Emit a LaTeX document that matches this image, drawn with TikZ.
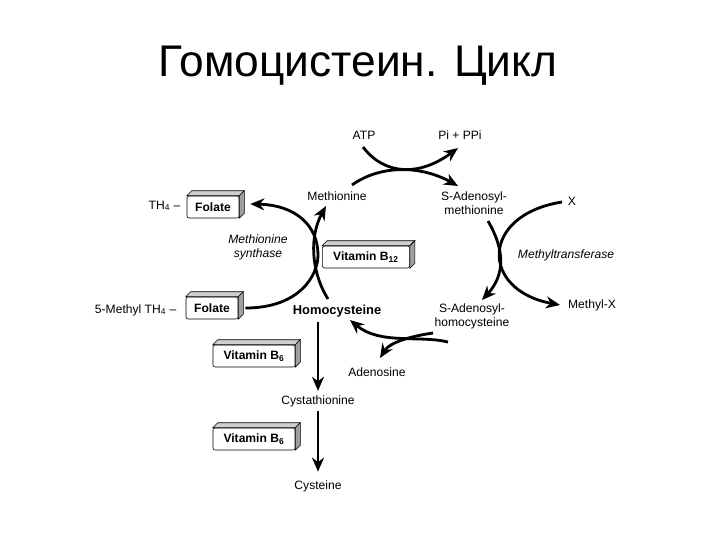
\documentclass[tikz,border=0pt]{standalone}
\usepackage{fontspec}
\setmainfont{Liberation Sans}
\usetikzlibrary{arrows.meta,calc}
\definecolor{grisCara}{HTML}{CFCFCF}
\definecolor{grisLado}{HTML}{A0A0A0}
\tikzset{
  etiq/.style={font=\fontsize{8.6}{10}\selectfont,align=center,inner sep=1pt},
  enzima/.style={etiq,font=\fontsize{8.6}{10}\selectfont\itshape},
  caja/.style={draw,thin,fill=white,rounded corners=1.5pt,inner sep=0pt,
    minimum height=0.55cm,font=\fontsize{8.6}{10}\selectfont\bfseries},
  flecha/.style={line width=2pt,-{Stealth[length=10pt,width=8.5pt]}},
}
\newcommand{\caras}[1]{%
  \filldraw[fill=grisCara,thin] (#1.north west) -- ++(5,-5) -- ($(#1.north east)+(5,-5)$) -- (#1.north east) -- cycle;
  \filldraw[fill=grisLado,thin] (#1.north east) -- ++(5,-5) -- ($(#1.south east)+(5,-5)$) -- (#1.south east) -- cycle;}

\begin{document}
\begin{tikzpicture}[x=0.025cm,y=-0.025cm]
  \useasboundingbox (0,0) rectangle (720,540);
  \node[font=\fontsize{31.5}{36}\selectfont] (titulo) at (358,66) {Гомоцистеин. Цикл};
  % metabolites
  \node[etiq] (atp) at (364,135) {ATP};
  \node[etiq] (ppi) at (460,135) {Pi + PPi};
  \node[etiq] (met) at (337,196) {Methionine};
  \node[etiq] (sam) at (474,203) {S-Adenosyl-\\methionine};
  \node[etiq] (x) at (572,201) {X};
  \node[etiq,font=\fontsize{9.2}{11}\selectfont\bfseries] (hcy) at (337,311) {Homocysteine};
  \node[etiq] (sah) at (472,316) {S-Adenosyl-\\homocysteine};
  \node[etiq] (mex) at (592,305) {Methyl-X};
  \node[etiq] (ade) at (377,372) {Adenosine};
  \node[etiq] (cys) at (318,401) {Cystathionine};
  \node[etiq] (cyst) at (318,486) {Cysteine};
  \node[enzima] (ms) at (258,247) {Methionine\\synthase};
  \node[enzima] (mt) at (566,255) {Methyltransferase};
  % cofactor boxes
  \node[caja,minimum width=1.3cm] (fol1) at (213,207) {Folate};
  \caras{fol1}
  \node[etiq,anchor=east] (th4) at (182,206) {TH\textsubscript{4} –};
  \node[caja,minimum width=1.3cm] (fol2) at (212,308) {Folate};
  \caras{fol2}
  \node[etiq,anchor=east] (mth4) at (178,310) {5-Methyl TH\textsubscript{4} –};
  \node[caja,minimum width=2.18cm] (b12) at (366,257) {Vitamin B\textsubscript{12}};
  \caras{b12}
  \node[caja,minimum width=2.05cm] (b6a) at (254,356) {Vitamin B\textsubscript{6}};
  \caras{b6a}
  \node[caja,minimum width=2.05cm] (b6b) at (254,439) {Vitamin B\textsubscript{6}};
  \caras{b6b}
  % arcs
  \draw[flecha] ($(met.center)+(15,-11)$) .. controls (380,165) and (420,165) .. ($(sam.center)+(-16,-17)$);
  \draw[flecha] ($(atp.center)+(-1,12)$) .. controls (385,176) and (420,176) .. ($(ppi.center)+(-2,13)$);
  \draw[flecha] ($(sam.center)+(14,18)$) .. controls (505,250) and (505,275) .. ($(sah.center)+(10,-16)$);
  \draw[flecha] ($(x.center)+(-10,1)$) .. controls (480,215) and (480,290) .. ($(mex.center)+(-32,0)$);
  \draw[flecha] ($(hcy.center)+(-9,-12)$) .. controls (310,270) and (310,235) .. ($(met.center)+(-11,10)$);
  \draw[flecha] ($(fol2.east)+(7,0)$) .. controls (300,308) and (318,275) .. (318,255)
    .. controls (318,225) and (295,205) .. ($(fol1.east)+(11,-3)$);
  \draw[flecha] ($(sah.center)+(-24,26)$) .. controls (420,335) and (380,345) .. ($(hcy.center)+(13,9)$);
  \draw[flecha] ($(sah.center)+(-39,17)$) .. controls (412,336) and (390,342) .. ($(ade.center)+(3,-14)$);
  \draw[flecha,shorten <=2pt,shorten >=2pt] (hcy.south -| cys.north) -- (cys.north);
  \draw[flecha,shorten <=2pt,shorten >=5pt] (cys.south) -- (cyst.north);
\end{tikzpicture}
\end{document}
